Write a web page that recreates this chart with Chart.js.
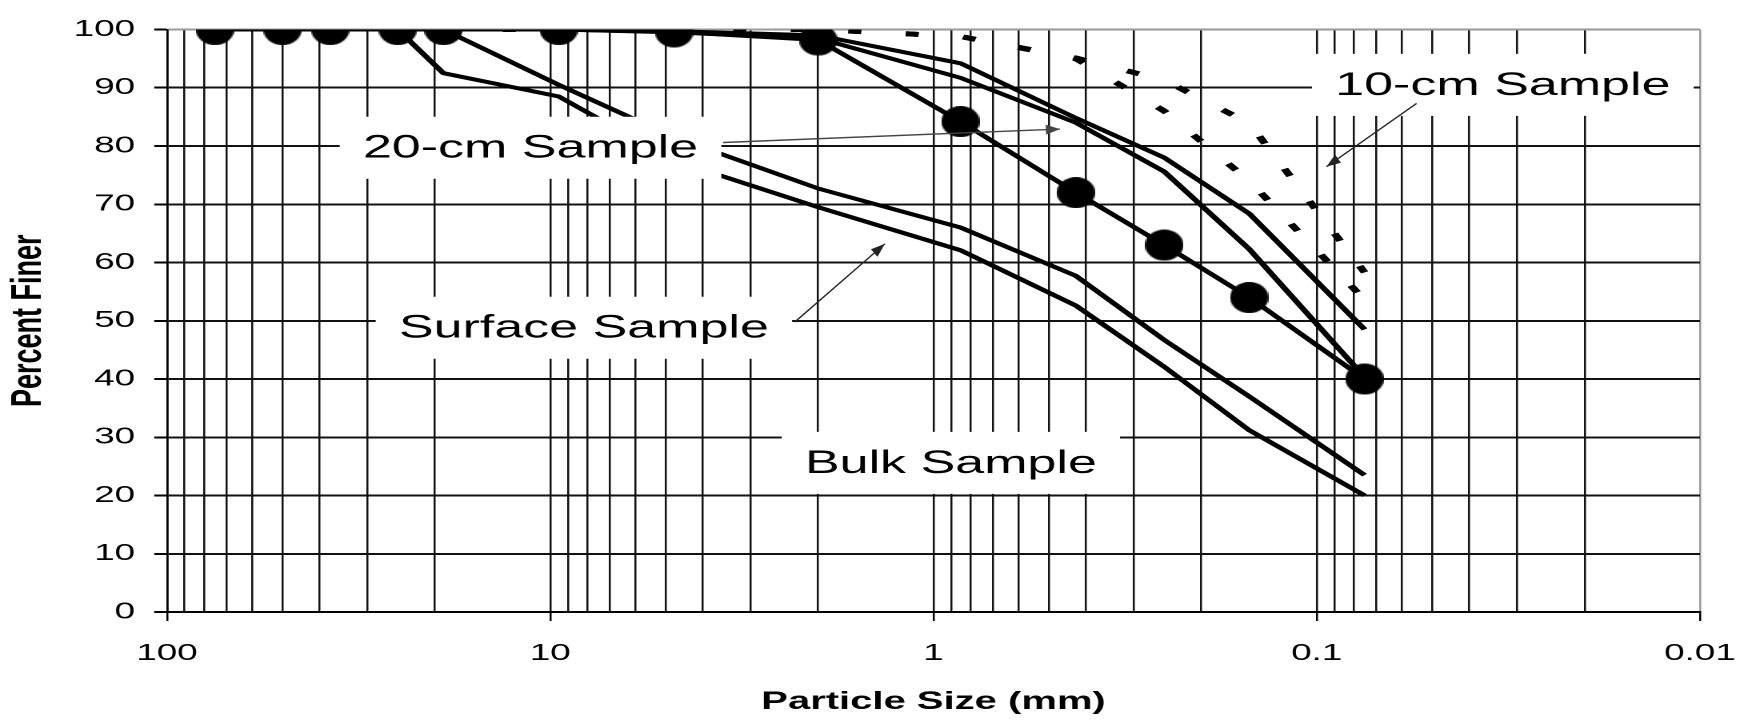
<!DOCTYPE html>
<html>
<head>
<meta charset="utf-8">
<title>Particle Size Distribution</title>
<script src="https://cdn.jsdelivr.net/npm/chart.js@4.4.1/dist/chart.umd.min.js"></script>
<style>
  html, body { margin: 0; padding: 0; background: #fff; overflow: hidden; }
  #chart { display: block; width: 1744px !important; height: 728px !important; }
</style>
</head>
<body>
<canvas id="chart" width="1090" height="728" style="width:1744px;height:728px"></canvas>
<script>
// The original graph is stretched sideways, so the canvas is drawn narrow and widened by CSS
const STRETCH = 1744 / 1090;

// Sieve openings (mm) shared by all curves
const sieveSizes = [75, 50, 37.5, 25, 19, 9.5, 4.75, 2.0, 0.85, 0.425, 0.25, 0.15, 0.075];

// Percent finer
const bulkSample = [100, 100, 100, 100, 100, 100, 99.6, 98.2, 84.2, 72, 63, 54, 40];
const twentyCmA  = [100, 100, 100, 100, 100, 100, 99.7, 99, 94.2, 84.8, 78, 68.4, 48.5];
const twentyCmB  = [100, 100, 100, 100, 100, 100, 99.5, 98.5, 91.7, 84, 75.6, 62.3, 40.3];
const surfaceA   = [100, 100, 100, 100, 100, 90.5, 81.5, 72.7, 66, 57.7, 46.7, 37, 23.5];
const surfaceB   = [100, 100, 100, 100, 92.5, 88.5, 77.5, 69.5, 62.1, 52.6, 42.1, 31.2, 20];
const tenCmA     = [100, 100, 100, 100, 100, 100, 100, 100, 98.8, 95.1, 91.3, 83.9, 58.3];
const tenCmB     = [100, 100, 100, 100, 100, 100, 100, 100, 98.8, 95, 86, 74, 53.6];

// Axis ticks
const xTickLabels = ['100', '10', '1', '0.1', '0.01'];
const xDecades = [0.01, 0.1, 1, 10];
const yTickValues = [0, 10, 20, 30, 40, 50, 60, 70, 80, 90, 100];

// Text callouts (positions in data units: [mm, percent])
const callouts = [
  { text: '20-cm Sample',   at: [11.26, 79.7], from: [3.54, 80.6],   to: [0.468, 82.9], color: '#444' },
  { text: 'Surface Sample', at: [8.17, 48.8],  from: [2.30, 49.8],   to: [1.34, 63.2],  color: '#222' },
  { text: 'Bulk Sample',    at: [0.901, 25.6] },
  { text: '10-cm Sample',   at: [0.0327, 90.5], from: [0.0549, 87.3], to: [0.0943, 76.45], color: '#222' }
];

const FONT = '"Liberation Sans", Arial, Helvetica, sans-serif';

// log gridlines at 1..9 of each decade
const xGridValues = [];
xDecades.forEach(d => {
  for (let k = 1; k <= 9; k++) xGridValues.push(d * k);
});
xGridValues.push(100);

const isDecade = v => Math.abs(Math.log10(v) - Math.round(Math.log10(v))) < 1e-9;

const curve = values => sieveSizes.map((s, i) => ({ x: s, y: values[i] }));

// round sieve marker: on the widened canvas it has to be drawn narrower than tall
function makeMarker(w, h) {
  const c = document.createElement('canvas');
  c.width = w;
  c.height = h;
  const g = c.getContext('2d');
  g.fillStyle = '#000';
  g.beginPath();
  g.ellipse(w / 2, h / 2, w / 2, h / 2, 0, 0, Math.PI * 2);
  g.fill();
  return c;
}
const marker = makeMarker(24, 31);

const lineStyle = {
  showLine: true,
  borderColor: '#000',
  backgroundColor: '#000',
  borderWidth: 4,
  pointRadius: 0,
  pointHoverRadius: 0,
  tension: 0
};

const calloutPlugin = {
  id: 'callouts',
  afterDatasetsDraw(chart) {
    const { ctx, scales: { x, y } } = chart;
    ctx.save();
    ctx.font = '32.5px ' + FONT;
    ctx.textAlign = 'center';
    ctx.textBaseline = 'middle';
    callouts.forEach(c => {
      const cx = x.getPixelForValue(c.at[0]);
      const cy = y.getPixelForValue(c.at[1]);
      const w = ctx.measureText(c.text).width + 29;
      const h = 62;
      ctx.fillStyle = '#fff';
      ctx.fillRect(cx - w / 2, cy - h / 2, w, h);
      ctx.fillStyle = '#000';
      ctx.fillText(c.text, cx, cy + 1);
    });

    // arrows are drawn in screen proportions so the heads are not skewed
    ctx.scale(1 / STRETCH, 1);
    callouts.filter(c => c.from).forEach(c => {
      const x0 = x.getPixelForValue(c.from[0]) * STRETCH;
      const y0 = y.getPixelForValue(c.from[1]);
      const x1 = x.getPixelForValue(c.to[0]) * STRETCH;
      const y1 = y.getPixelForValue(c.to[1]);
      ctx.strokeStyle = c.color;
      ctx.fillStyle = c.color;
      ctx.lineWidth = 1.4;
      ctx.beginPath();
      ctx.moveTo(x0, y0);
      ctx.lineTo(x1, y1);
      ctx.stroke();
      const a = Math.atan2(y1 - y0, x1 - x0);
      const len = 14, half = 5;
      ctx.beginPath();
      ctx.moveTo(x1, y1);
      ctx.lineTo(x1 - len * Math.cos(a) + half * Math.sin(a), y1 - len * Math.sin(a) - half * Math.cos(a));
      ctx.lineTo(x1 - len * Math.cos(a) - half * Math.sin(a), y1 - len * Math.sin(a) + half * Math.cos(a));
      ctx.closePath();
      ctx.fill();
    });
    ctx.restore();
  }
};

new Chart(document.getElementById('chart'), {
  type: 'scatter',
  data: {
    datasets: [
      { ...lineStyle, label: '10-cm Sample A', data: curve(tenCmA), borderWidth: 5, borderDash: [8, 28], borderCapStyle: 'butt' },
      { ...lineStyle, label: '10-cm Sample B', data: curve(tenCmB), borderWidth: 5, borderDash: [8, 28], borderCapStyle: 'butt' },
      { ...lineStyle, label: 'Surface Sample A', data: curve(surfaceA) },
      { ...lineStyle, label: 'Surface Sample B', data: curve(surfaceB) },
      { ...lineStyle, label: '20-cm Sample A', data: curve(twentyCmA) },
      { ...lineStyle, label: '20-cm Sample B', data: curve(twentyCmB) },
      { ...lineStyle, label: 'Bulk Sample', data: curve(bulkSample), pointRadius: 14, pointStyle: marker }
    ]
  },
  options: {
    responsive: false,
    devicePixelRatio: 2,
    animation: false,
    events: [],
    layout: { padding: { top: 29.5, right: 27.5, bottom: 0, left: 0 } },
    plugins: {
      legend: { display: false },
      tooltip: { enabled: false }
    },
    scales: {
      x: {
        type: 'logarithmic',
        reverse: true,
        min: 0.01,
        max: 100,
        afterBuildTicks: scale => {
          scale.ticks = xGridValues.map(v => ({ value: v, major: isDecade(v) }));
        },
        afterFit: scale => { scale.height = 116; },
        border: { display: true, color: '#000', width: 2 },
        grid: {
          color: ctx => (ctx.tick && Math.abs(ctx.tick.value - 0.01) < 1e-9) ? '#999' : '#111',
          lineWidth: 1.25,
          tickLength: 9,
          tickWidth: 1.25,
          tickColor: ctx => (ctx.tick && isDecade(ctx.tick.value)) ? '#000' : 'rgba(0,0,0,0)'
        },
        ticks: {
          autoSkip: false,
          maxRotation: 0,
          padding: 19,
          color: '#000',
          font: { family: FONT, size: 23 },
          callback: value => {
            if (!isDecade(value)) return '';
            const hit = xTickLabels.find(t => Math.abs(Number(t) - value) < 1e-9);
            return hit || '';
          }
        },
        title: {
          display: true,
          text: 'Particle Size (mm)',
          color: '#000',
          font: { family: FONT, size: 25, weight: 'bold' },
          padding: { top: 0, bottom: 11 }
        }
      },
      y: {
        min: 0,
        max: 100,
        afterBuildTicks: scale => {
          scale.ticks = yTickValues.map(v => ({ value: v }));
        },
        afterFit: scale => { scale.width = 104.4; },
        border: { display: true, color: '#000', width: 1.3 },
        grid: {
          color: ctx => (ctx.tick && ctx.tick.value === 100) ? '#999' : '#111',
          lineWidth: 2,
          tickLength: 8,
          tickColor: '#000'
        },
        ticks: {
          padding: 12,
          color: '#000',
          font: { family: FONT, size: 23 }
        },
        title: {
          display: true,
          text: 'Percent Finer',
          color: '#000',
          font: { family: FONT, size: 27, weight: 'bold' },
          padding: { top: 2, bottom: 0 }
        }
      }
    }
  },
  plugins: [calloutPlugin]
});
</script>
</body>
</html>
